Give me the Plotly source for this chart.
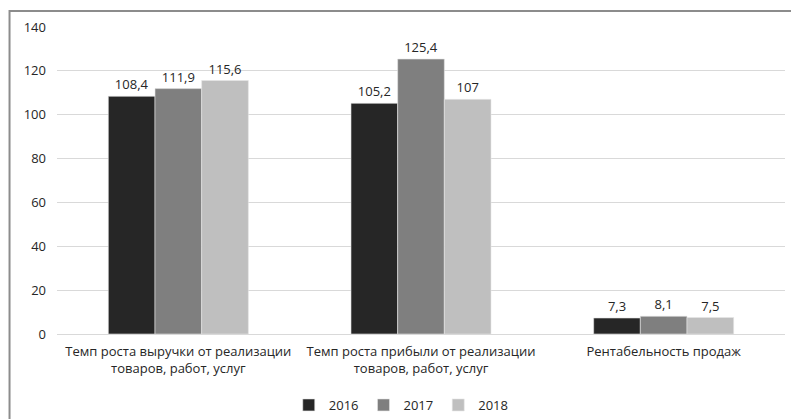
import plotly.graph_objects as go

categories = [
    "Темп роста выручки от реализации<br>товаров, работ, услуг",
    "Темп роста прибыли от реализации<br>товаров, работ, услуг",
    "Рентабельность продаж",
]
years = ["2016", "2017", "2018"]
values_2016 = [108.4, 105.2, 7.3]
values_2017 = [111.9, 125.4, 8.1]
values_2018 = [115.6, 107, 7.5]
colors = ["#262626", "#7f7f7f", "#bfbfbf"]
y_ticks = [0, 20, 40, 60, 80, 100, 120, 140]

FONT = "'Open Sans', 'Noto Sans', sans-serif"
FS = 13


def fmt(v):
    s = f"{v:g}"
    return s.replace(".", ",")


fig = go.Figure()
for name, vals, col in zip(years, [values_2016, values_2017, values_2018], colors):
    fig.add_trace(go.Bar(
        x=categories, y=vals, name=name,
        marker=dict(color=col, line=dict(color="#e6e6e6", width=0.6)),
        text=[fmt(v) for v in vals], textposition="outside",
        textfont=dict(size=FS, color="#262626", family=FONT),
        cliponaxis=False,
    ))

W, H = 791, 419
L, R, T, B = 56.5, 6, 27, 85
pw, ph = W - L - R, H - T - B


def px_x(p):
    return (p - L) / pw


def px_y(p):
    return (H - B - p) / ph


fig.update_layout(
    width=W, height=H,
    margin=dict(l=L, r=R, t=T, b=B, autoexpand=False),
    paper_bgcolor="white", plot_bgcolor="white",
    barmode="group", bargap=0.423, bargroupgap=0,
    font=dict(family=FONT, size=FS, color="#262626"),
    showlegend=True,
    legend=dict(orientation="h", x=px_x(401), xanchor="center", xref="paper",
                y=px_y(405), yanchor="middle",
                font=dict(size=FS), itemwidth=30, traceorder="normal"),
    xaxis=dict(showgrid=False, showline=False, ticks="", tickfont=dict(size=FS),
               ticklabelstandoff=8),
    yaxis=dict(range=[0, 140], tickvals=y_ticks, showgrid=True, gridcolor="#d9d9d9",
               gridwidth=1, zeroline=True, zerolinecolor="#d9d9d9", zerolinewidth=1,
               showline=False, ticks="", ticklabelstandoff=10,
               tickfont=dict(size=FS)),
    shapes=[
        dict(type="line", xref="paper", yref="paper",
             x0=px_x(9), x1=px_x(791), y0=px_y(11), y1=px_y(11),
             line=dict(color="#8c8c8c", width=2)),
        dict(type="line", xref="paper", yref="paper",
             x0=px_x(9), x1=px_x(9), y0=px_y(10), y1=px_y(419),
             line=dict(color="#8c8c8c", width=2)),
    ],
)

fig.write_html("out.html")
